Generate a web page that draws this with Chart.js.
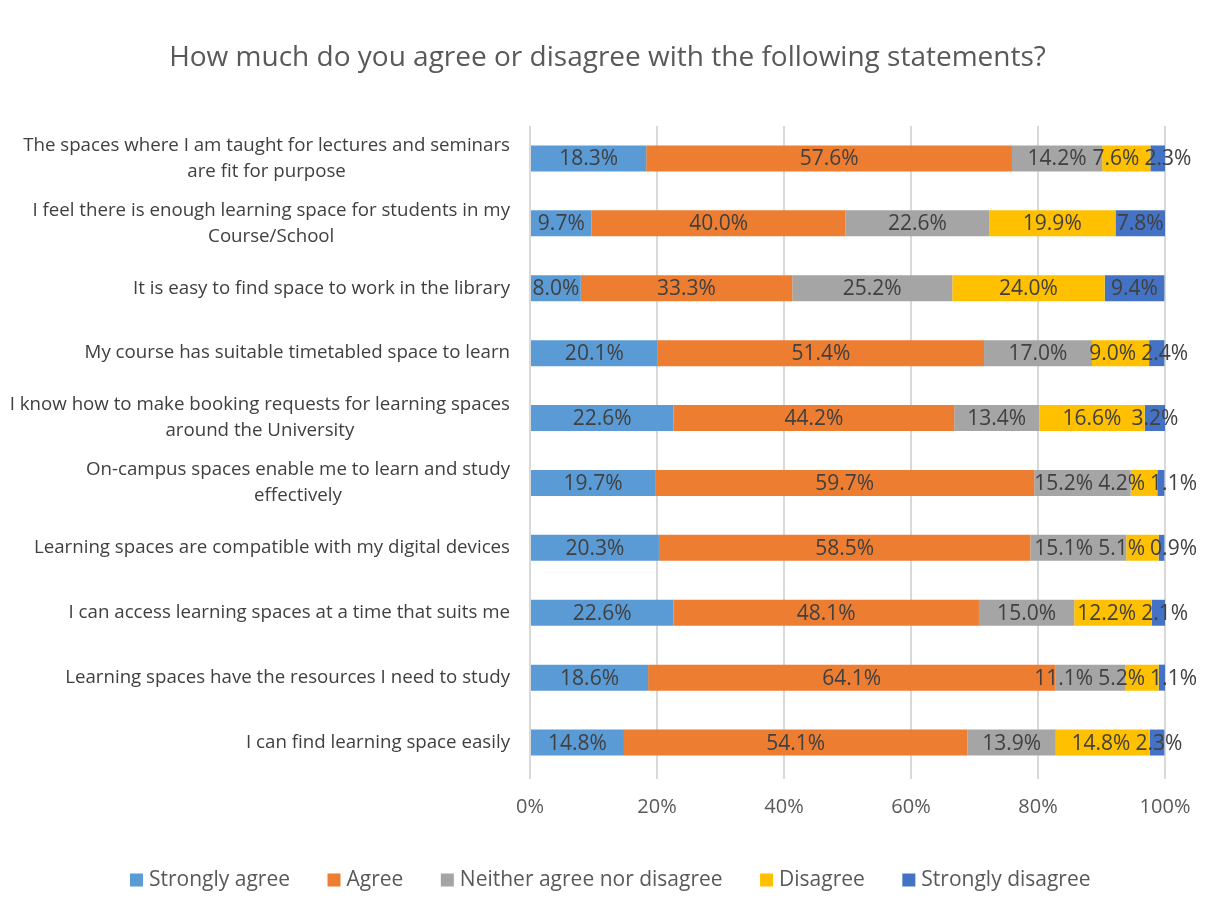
<!DOCTYPE html>
<html>
<head>
<meta charset="utf-8">
<title>Learning spaces survey</title>
<script src="https://cdn.jsdelivr.net/npm/chart.js@4.4.1/dist/chart.umd.min.js"></script>
<style>
  html, body { margin: 0; padding: 0; background: #fff; }
  #wrap { width: 1207px; height: 913px; }
</style>
</head>
<body>
<div id="wrap"><canvas id="chart" width="1207" height="913"></canvas></div>
<script>
// ── Data ──────────────────────────────────────────────────────────────────────
const CATEGORIES = [
  ["The spaces where I am taught for lectures and seminars", "are fit for purpose"],
  ["I feel there is enough learning space for students in my", "Course/School"],
  ["It is easy to find space to work in the library"],
  ["My course has suitable timetabled space to learn"],
  ["I know how to make booking requests for learning spaces", "around the University"],
  ["On-campus spaces enable me to learn and study", "effectively"],
  ["Learning spaces are compatible with my digital devices"],
  ["I can access learning spaces at a time that suits me"],
  ["Learning spaces have the resources I need to study"],
  ["I can find learning space easily"],
];

const SERIES_NAMES = ["Strongly agree", "Agree", "Neither agree nor disagree", "Disagree", "Strongly disagree"];

const STRONGLY_AGREE    = [18.3,  9.7,  8.0, 20.1, 22.6, 19.7, 20.3, 22.6, 18.6, 14.8];
const AGREE             = [57.6, 40.0, 33.3, 51.4, 44.2, 59.7, 58.5, 48.1, 64.1, 54.1];
const NEITHER           = [14.2, 22.6, 25.2, 17.0, 13.4, 15.2, 15.1, 15.0, 11.1, 13.9];
const DISAGREE          = [ 7.6, 19.9, 24.0,  9.0, 16.6,  4.2,  5.1, 12.2,  5.2, 14.8];
const STRONGLY_DISAGREE = [ 2.3,  7.8,  9.4,  2.4,  3.2,  1.1,  0.9,  2.1,  1.1,  2.3];

const X_TICKS = [0, 20, 40, 60, 80, 100];

const COLORS = ["#5B9BD5", "#ED7D31", "#A5A5A5", "#FFC000", "#4472C4"];

const FONT = "'Open Sans', 'Noto Sans', sans-serif";
const TEXT = "#595959";
const LABEL_TEXT = "#404040";

// ── Plugins ───────────────────────────────────────────────────────────────────
// Category labels: block right-aligned to the axis, lines centred inside it (Excel style)
const categoryLabels = {
  id: "categoryLabels",
  afterDraw(chart) {
    const { ctx, scales: { y }, chartArea } = chart;
    const right = chartArea.left - 20;
    const lh = 26;
    ctx.save();
    ctx.font = `18.7px ${FONT}`;
    ctx.fillStyle = LABEL_TEXT;
    ctx.textAlign = "center";
    ctx.textBaseline = "middle";
    CATEGORIES.forEach((lines, i) => {
      const cy = y.getPixelForTick(i);
      const maxW = Math.max(...lines.map((l) => ctx.measureText(l).width));
      const cx = right - maxW / 2;
      const top = cy - ((lines.length - 1) * lh) / 2;
      lines.forEach((l, j) => ctx.fillText(l, cx, top + j * lh));
    });
    ctx.restore();
  },
};

// Value labels centred in each segment, nudged apart where they collide
const valueLabels = {
  id: "valueLabels",
  afterDatasetsDraw(chart) {
    const { ctx } = chart;
    const gap = 5;
    const maxRight = chart.width - 10;
    ctx.save();
    ctx.font = `21px ${FONT}`;
    ctx.fillStyle = LABEL_TEXT;
    ctx.textAlign = "center";
    ctx.textBaseline = "middle";

    CATEGORIES.forEach((_, i) => {
      const items = chart.data.datasets.map((ds, d) => {
        const bar = chart.getDatasetMeta(d).data[i];
        const text = ds.data[i].toFixed(1) + "%";
        return { text, x: (bar.base + bar.x) / 2, y: bar.y, w: ctx.measureText(text).width };
      });
      for (let pass = 0; pass < 30; pass++) {
        for (let k = 1; k < items.length; k++) {
          const a = items[k - 1], b = items[k];
          const overlap = (a.x + a.w / 2 + gap) - (b.x - b.w / 2);
          if (overlap > 0) { a.x -= overlap / 2; b.x += overlap / 2; }
        }
      }
      // keep the last label inside the canvas, pushing neighbours left
      let limit = maxRight;
      for (let k = items.length - 1; k >= 0; k--) {
        const it = items[k];
        if (it.x + it.w / 2 > limit) it.x = limit - it.w / 2;
        limit = it.x - it.w / 2 - gap;
      }
      items.forEach((it) => ctx.fillText(it.text, it.x, it.y + 1));
    });
    ctx.restore();
  },
};

// Excel's legend sits a little right of centre
const legendShift = {
  id: "legendShift",
  afterLayout(chart) {
    chart.legend.left += 5;
    chart.legend.right += 5;
  },
};

// ── Chart ─────────────────────────────────────────────────────────────────────
const seriesValues = [STRONGLY_AGREE, AGREE, NEITHER, DISAGREE, STRONGLY_DISAGREE];

new Chart(document.getElementById("chart"), {
  type: "bar",
  data: {
    labels: CATEGORIES,
    datasets: SERIES_NAMES.map((name, i) => ({
      label: name,
      data: seriesValues[i],
      backgroundColor: COLORS[i],
      borderWidth: 0,
      barPercentage: 0.4,
      categoryPercentage: 1,
    })),
  },
  options: {
    indexAxis: "y",
    responsive: false,
    animation: false,
    layout: { padding: { left: 50, right: 42, top: 0, bottom: 12.5 } },
    scales: {
      x: {
        stacked: true,
        min: 0,
        max: 100,
        afterBuildTicks(scale) { scale.ticks = X_TICKS.map((v) => ({ value: v })); },
        ticks: { callback: (v) => v + "%", color: TEXT, font: { family: FONT, size: 20 }, padding: 16 },
        grid: { color: "#D9D9D9", lineWidth: 2, tickLength: 4 },
        border: { display: false },
        afterFit(scale) { scale.height = 52.5; },
      },
      y: {
        stacked: true,
        ticks: { display: false },
        grid: { display: false },
        border: { display: false },
        afterFit(scale) { scale.width = 480; },
      },
    },
    plugins: {
      title: {
        display: true,
        text: "How much do you agree or disagree with the following statements?",
        color: TEXT,
        font: { family: FONT, size: 28, weight: "normal" },
        padding: { top: 41, bottom: 51.4 },
      },
      legend: {
        position: "bottom",
        labels: {
          color: TEXT,
          font: { family: FONT, size: 21 },
          usePointStyle: true,
          pointStyle: "rect",
          boxWidth: 4,
          boxHeight: 13,
          padding: 42,
        },
      },
      tooltip: { enabled: false },
    },
  },
  plugins: [categoryLabels, valueLabels, legendShift],
});
</script>
</body>
</html>
